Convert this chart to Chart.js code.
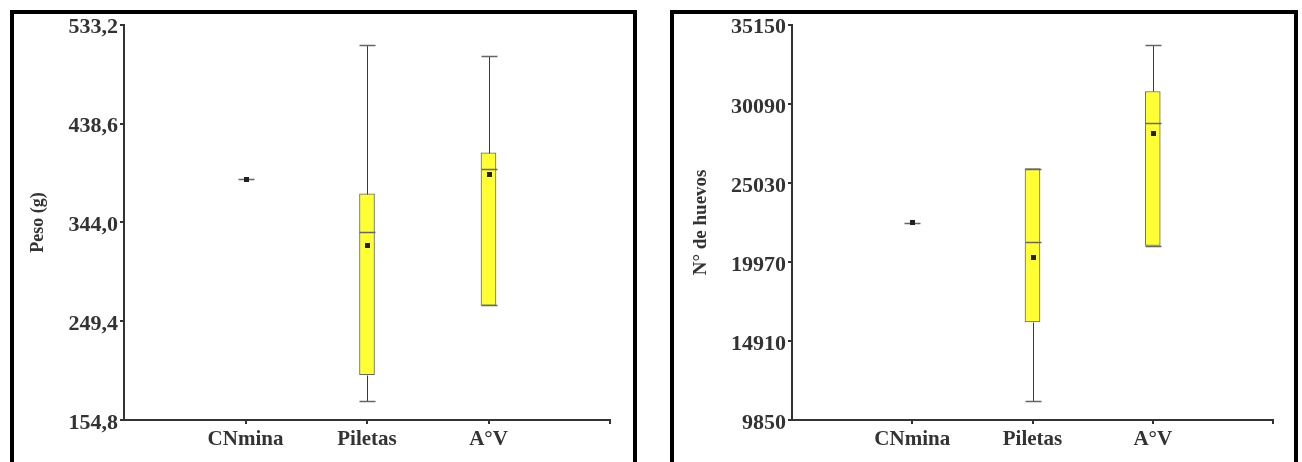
<!DOCTYPE html>
<html>
<head>
<meta charset="utf-8">
<script src="https://cdn.jsdelivr.net/npm/chart.js@4"></script>
<style>
  html, body { margin: 0; padding: 0; background: #fff; width: 1302px; height: 462px; overflow: hidden; }
  .frame { position: absolute; top: 10px; height: 480px; border: 4px solid #000; box-sizing: border-box; background: #fff; }
  #frameA { left: 10px; width: 627px; }
  #frameB { left: 670px; width: 628px; }
  .holder { position: absolute; top: 14px; height: 448px; }
  #holderA { left: 14px; width: 619px; }
  #holderB { left: 674px; width: 620px; }
</style>
</head>
<body>
<div class="frame" id="frameA"></div>
<div class="frame" id="frameB"></div>
<div class="holder" id="holderA"><canvas id="chartPeso"></canvas></div>
<div class="holder" id="holderB"><canvas id="chartHuevos"></canvas></div>
<script>
const categories = ['CNmina', 'Piletas', 'A°V'];

// Peso (g)
const pesoMin    = [385.4, 173.0, 264.6];
const pesoQ1     = [385.4, 198.2, 264.6];
const pesoMedian = [385.4, 335.2, 395.5];
const pesoQ3     = [385.4, 371.3, 410.6];
const pesoMax    = [385.4, 514.0, 503.5];
const pesoMean   = [385.4, 321.5, 389.5];
const pesoTicks  = [154.8, 249.4, 344.0, 438.6, 533.2];

// N° de huevos
const huevosMin    = [22470, 11070, 21020];
const huevosQ1     = [22470, 16130, 21020];
const huevosMedian = [22470, 21270, 28870];
const huevosQ3     = [22470, 25950, 30880];
const huevosMax    = [22470, 25950, 33870];
const huevosMean   = [22470, 20230, 28170];
const huevosTicks  = [9850, 14910, 19970, 25030, 30090, 35150];

const INK = '#333';
const SERIF = "'Liberation Serif', 'DejaVu Serif', serif";

// Whiskers, median lines and mean markers on top of the floating bars
const boxExtras = {
  id: 'boxExtras',
  afterDatasetsDraw(chart) {
    const s = chart.options.plugins.boxExtras;
    const xs = chart.scales.x, ys = chart.scales.y;
    const c = chart.ctx;
    c.save();
    s.min.forEach((mn, i) => {
      const x = Math.round(xs.getPixelForValue(i + 1)) + 0.5;
      const yMin = Math.round(ys.getPixelForValue(mn)) + 0.5;
      const yQ1 = Math.round(ys.getPixelForValue(s.q1[i])) + 0.5;
      const yQ3 = Math.round(ys.getPixelForValue(s.q3[i])) + 0.5;
      const yMax = Math.round(ys.getPixelForValue(s.max[i])) + 0.5;
      const yMed = Math.round(ys.getPixelForValue(s.median[i])) + 0.5;
      const yMean = ys.getPixelForValue(s.mean[i]);
      const half = 8;
      // vertical whiskers
      c.strokeStyle = '#3a3a3a';
      c.lineWidth = 1;
      c.beginPath();
      if (yMax < yQ3) { c.moveTo(x, yMax); c.lineTo(x, yQ3); }
      if (yMin > yQ1) { c.moveTo(x, yQ1); c.lineTo(x, yMin); }
      c.stroke();
      // caps and median
      c.strokeStyle = '#666';
      c.lineWidth = 1.5;
      c.beginPath();
      c.moveTo(x - half, yMax); c.lineTo(x + half, yMax);
      c.moveTo(x - half, yMin); c.lineTo(x + half, yMin);
      c.moveTo(x - half, yMed); c.lineTo(x + half, yMed);
      c.stroke();
      // mean marker
      c.fillStyle = '#222';
      c.fillRect(Math.round(x - 3), Math.round(yMean - 2.5), 5, 5);
    });
    c.restore();
  }
};

function makeChart(canvasId, d) {
  const labels = ['', ...categories, ''];
  const boxes = [null, ...d.q1.map((q, i) => [q, d.q3[i]]), null];
  const tickColor = ctx => (ctx.index === 0 && ctx.scale.axis === 'x') ? 'rgba(0,0,0,0)' : INK;
  return new Chart(document.getElementById(canvasId), {
    type: 'bar',
    data: {
      labels,
      datasets: [{
        data: boxes,
        backgroundColor: '#ffff33',
        borderColor: '#666',
        borderWidth: 1,
        borderSkipped: false,
        barThickness: 15
      }]
    },
    options: {
      animation: false,
      responsive: true,
      maintainAspectRatio: false,
      layout: { padding: { top: 8, right: d.padRight, left: 0, bottom: 0 } },
      plugins: {
        legend: { display: false },
        tooltip: { enabled: false },
        boxExtras: { min: d.min, q1: d.q1, median: d.median, q3: d.q3, max: d.max, mean: d.mean }
      },
      scales: {
        x: {
          offset: false,
          grid: { offset: false, drawOnChartArea: false, drawTicks: true, tickLength: 4, lineWidth: 2, color: tickColor },
          border: { display: true, color: INK, width: 2 },
          ticks: { autoSkip: false, maxRotation: 0, color: INK, padding: 3,
                   font: { family: SERIF, weight: 'bold', size: 21 } },
          afterFit: s => { s.height = 42; }
        },
        y: {
          min: d.ticks[0],
          max: d.ticks[d.ticks.length - 1],
          afterBuildTicks: s => { s.ticks = d.ticks.map(v => ({ value: v })); },
          grid: { drawOnChartArea: false, drawTicks: true, tickLength: 4, lineWidth: 2, color: INK },
          border: { display: true, color: INK, width: 2 },
          ticks: { color: INK, padding: 2, labelOffset: 3, callback: d.fmt,
                   font: { family: SERIF, weight: 'bold', size: 22, lineHeight: 0.8 } },
          title: { display: true, text: d.title, color: INK,
                   font: { family: SERIF, weight: 'bold', size: d.titleSize },
                   padding: { top: d.titlePad, bottom: 0 } },
          afterFit: s => { s.width = d.axisWidth; }
        }
      }
    },
    plugins: [boxExtras]
  });
}

makeChart('chartPeso', {
  min: pesoMin, q1: pesoQ1, median: pesoMedian, q3: pesoQ3, max: pesoMax, mean: pesoMean,
  ticks: pesoTicks, fmt: v => Number(v).toFixed(1).replace('.', ','),
  title: 'Peso (g)', titleSize: 18, titlePad: 14, axisWidth: 110, padRight: 23
});

makeChart('chartHuevos', {
  min: huevosMin, q1: huevosQ1, median: huevosMedian, q3: huevosQ3, max: huevosMax, mean: huevosMean,
  ticks: huevosTicks, fmt: v => String(Math.round(v)),
  title: 'N° de huevos', titleSize: 19, titlePad: 16, axisWidth: 118, padRight: 21
});
</script>
</body>
</html>
